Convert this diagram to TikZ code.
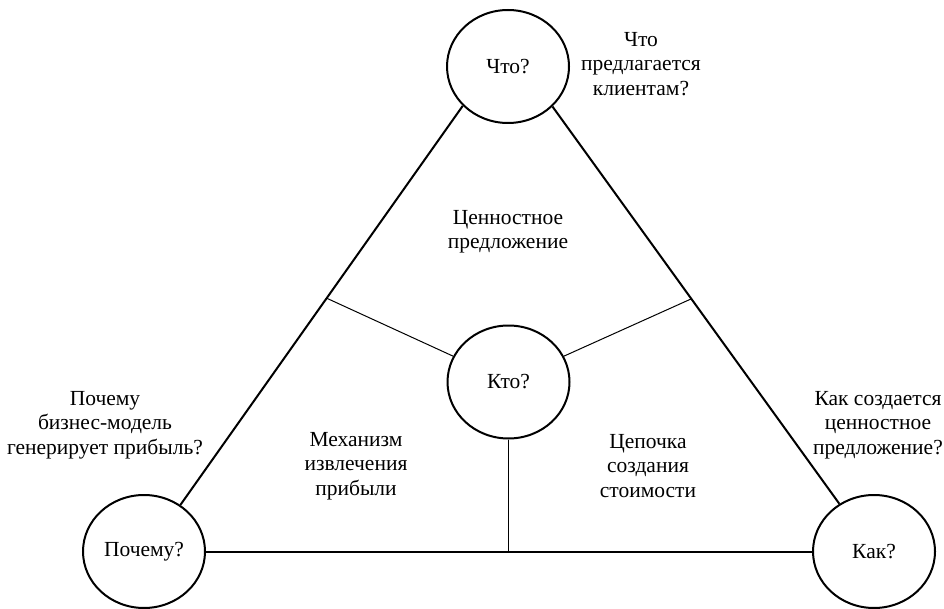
\documentclass[tikz,border=0pt]{standalone}
\usepackage{fontspec}
\setmainfont{Liberation Serif}
\usetikzlibrary{shapes.geometric}

\begin{document}
\begin{tikzpicture}[x=1pt,y=-1pt,
  q/.style={draw,ellipse,line width=2pt,minimum width=122pt,minimum height=113pt,inner sep=0pt},
  lbl/.style={align=center,font=\fontsize{21.5}{24.5}\selectfont},
  side/.style={line width=2pt},
  split/.style={line width=1pt}]
  \useasboundingbox (0,0) rectangle (944,609);

  % the four questions
  \node[q,lbl] (what) at (508,66.5) {Что?};
  \node[q,lbl] (why) at (144,551.5) {Почему?};
  \node[q,lbl] (how) at (874,551.5) {Как?};
  \node[q,lbl] (who) at (508.5,382) {Кто?};

  % texts round the triangle
  \node[lbl] (whatq) at (641,64) {Что\\предлагается\\клиентам?};
  \node[lbl] (whyq) at (105,425) {Почему\\бизнес-модель\\генерирует прибыль?};
  \node[lbl] (howq) at (878,425) {Как создается\\ценностное\\предложение?};

  % texts inside
  \node[lbl] (value) at (508,232) {Ценностное\\предложение};
  \node[lbl] (profit) at (356,466) {Механизм\\извлечения\\прибыли};
  \node[lbl] (chain) at (648,466) {Цепочка\\создания\\стоимости};

  % triangle
  \draw[side] (what.221.6) -- coordinate[pos=0.482] (lm) (why.52.5);
  \draw[side] (what.318) -- coordinate[pos=0.484] (rm) (how.126.6);
  \draw[side] (why) -- (how);

  % inner split
  \draw[split] (lm) -- (who.155.4);
  \draw[split] (rm) -- (who.25);
  \draw[split] (who.south) -- (who.south |- why.east);
\end{tikzpicture}
\end{document}
